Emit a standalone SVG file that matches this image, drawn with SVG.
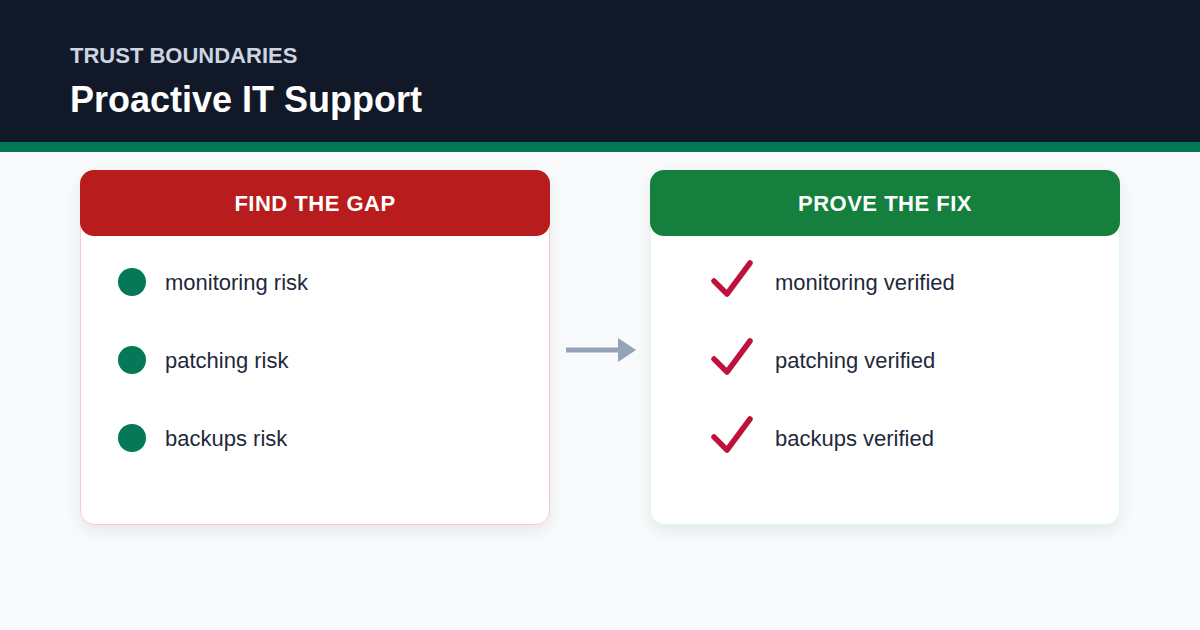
<svg xmlns="http://www.w3.org/2000/svg" width="1200" height="630" viewBox="0 0 1200 630">
<defs>
<filter id="sh" x="-10%" y="-10%" width="120%" height="130%">
<feDropShadow dx="0" dy="6" stdDeviation="8" flood-color="#0f172a" flood-opacity="0.08"/>
</filter>
<marker id="ah" markerWidth="3.6" markerHeight="4.8" refX="0" refY="2.4" orient="auto" markerUnits="strokeWidth">
<path d="M0,0 L3.6,2.4 L0,4.8 Z" fill="#94a3b8"/>
</marker>
</defs>
<style>
.t{font-family:"Liberation Sans",Arial,sans-serif}
.item{font-size:22px;fill:#1e293b}
.hd{font-size:22px;font-weight:700;fill:#fff;text-anchor:middle;letter-spacing:0.5px}
.chk{fill:none;stroke:#be123c;stroke-width:5.5;stroke-linecap:round;stroke-linejoin:round}
</style>
<rect width="1200" height="630" fill="#f8fafc"/>
<rect width="1200" height="142" fill="#111827"/>
<rect y="142" width="1200" height="10" fill="#047857"/>
<text class="t" x="70" y="63" font-size="22" font-weight="700" fill="#cbd5e1">TRUST BOUNDARIES</text>
<text class="t" x="70" y="112" font-size="36" font-weight="700" fill="#ffffff">Proactive IT Support</text>

<g id="find-gap">
<rect x="80.5" y="170.5" width="469" height="354" rx="14" fill="#ffffff" stroke="#fecaca" filter="url(#sh)"/>
<rect x="80" y="170" width="470" height="66" rx="14" fill="#b91c1c"/>
<text class="t hd" x="315" y="211">FIND THE GAP</text>
<circle cx="132" cy="282" r="14" fill="#047857"/>
<text class="t item" x="165" y="290">monitoring risk</text>
<circle cx="132" cy="360" r="14" fill="#047857"/>
<text class="t item" x="165" y="368">patching risk</text>
<circle cx="132" cy="438" r="14" fill="#047857"/>
<text class="t item" x="165" y="446">backups risk</text>
</g>

<g id="prove-fix">
<rect x="650.5" y="170.5" width="469" height="354" rx="14" fill="#ffffff" stroke="#dcfce7" filter="url(#sh)"/>
<rect x="650" y="170" width="470" height="66" rx="14" fill="#15803d"/>
<text class="t hd" x="885" y="211">PROVE THE FIX</text>
<path class="chk" d="M714,281 L727,294 L750,263"/>
<text class="t item" x="775" y="290">monitoring verified</text>
<path class="chk" d="M714,359 L727,372 L750,341"/>
<text class="t item" x="775" y="368">patching verified</text>
<path class="chk" d="M714,437 L727,450 L750,419"/>
<text class="t item" x="775" y="446">backups verified</text>
</g>

<g id="connectors">
<line x1="566" y1="350" x2="618" y2="350" stroke="#94a3b8" stroke-width="5" marker-end="url(#ah)"/>
</g>
</svg>
